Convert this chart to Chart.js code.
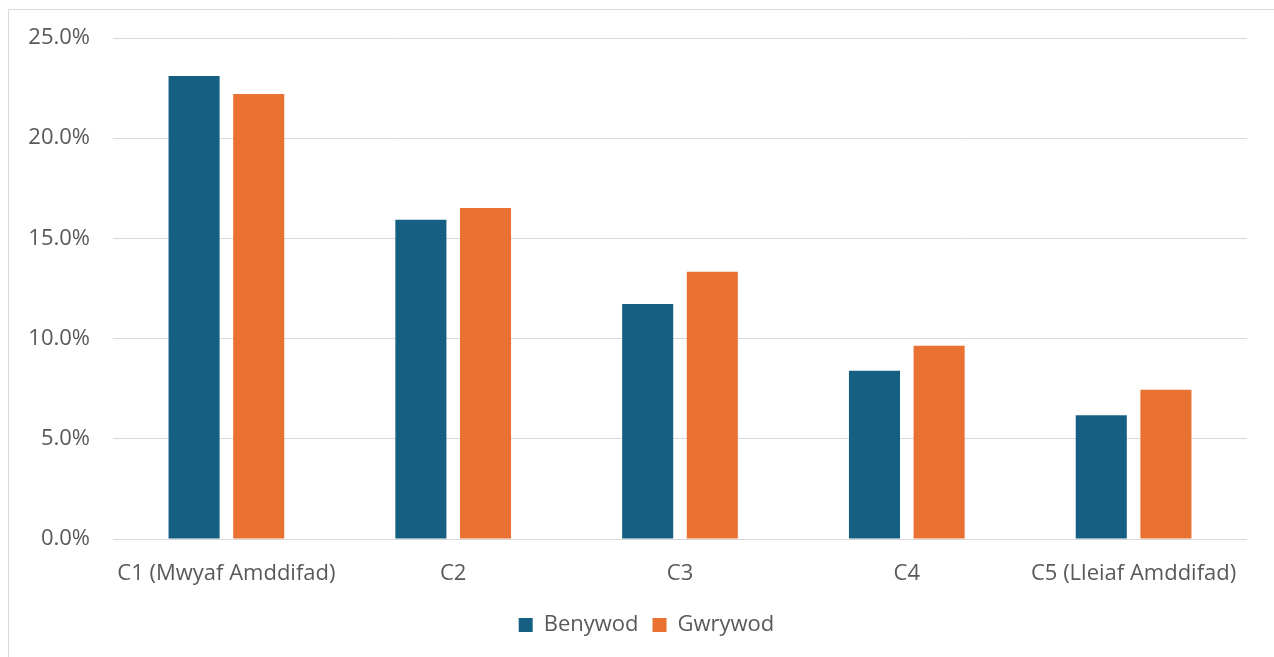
<!DOCTYPE html>
<html lang="cy">
<head>
    <meta charset="UTF-8">
    <title>Benywod a Gwrywod yn ôl cwintel amddifadedd</title>
    <script src="https://cdn.jsdelivr.net/npm/chart.js"></script>
    <style>
        html, body {
            margin: 0;
            padding: 0;
            background: white;
            width: 1274px;
            height: 657px;
            overflow: hidden;
        }
        .chart-box {
            position: absolute;
            left: 8px;
            top: 9px;
            right: 0;
            bottom: 0;
            border-top: 1px solid #d9d9d9;
            border-left: 1px solid #d9d9d9;
        }
    </style>
</head>
<body>
    <div class="chart-box">
        <canvas id="chartCwintel"></canvas>
    </div>

    <script>
        // Categorïau a gwerthoedd (%)
        const categorïau = ['C1 (Mwyaf Amddifad)', 'C2', 'C3', 'C4', 'C5 (Lleiaf Amddifad)'];
        const benywod = [23.1, 15.93, 11.73, 8.4, 6.17];
        const gwrywod = [22.2, 16.52, 13.33, 9.64, 7.45];
        const ticiauY = [0, 5, 10, 15, 20, 25];

        const lliwTestun = '#595959';
        const ffont = { family: '"Open Sans", sans-serif', size: 22 };

        const ctx = document.getElementById('chartCwintel').getContext('2d');
        new Chart(ctx, {
            type: 'bar',
            data: {
                labels: categorïau,
                datasets: [{
                    label: 'Benywod',
                    data: benywod,
                    backgroundColor: '#156082',
                    categoryPercentage: 0.57,
                    barPercentage: 0.79
                }, {
                    label: 'Gwrywod',
                    data: gwrywod,
                    backgroundColor: '#e97132',
                    categoryPercentage: 0.57,
                    barPercentage: 0.79
                }]
            },
            options: {
                responsive: true,
                maintainAspectRatio: false,
                animation: false,
                layout: {
                    padding: { top: 28, right: 0, bottom: 11, left: 10 }
                },
                plugins: {
                    tooltip: { enabled: false },
                    legend: {
                        position: 'bottom',
                        labels: {
                            color: lliwTestun,
                            font: ffont,
                            boxWidth: 14,
                            boxHeight: 14,
                            padding: 14
                        }
                    }
                },
                scales: {
                    x: {
                        grid: { display: false, drawTicks: false },
                        border: { display: false },
                        ticks: {
                            color: lliwTestun,
                            font: ffont,
                            padding: 22,
                            maxRotation: 0
                        },
                        afterFit: (scale) => { scale.height = 61; }
                    },
                    y: {
                        min: 0,
                        max: 25,
                        afterBuildTicks: (scale) => {
                            scale.ticks = ticiauY.map(v => ({ value: v }));
                        },
                        grid: {
                            color: '#d9d9d9',
                            lineWidth: 1,
                            drawTicks: false
                        },
                        border: { display: false },
                        ticks: {
                            color: lliwTestun,
                            font: ffont,
                            padding: 23,
                            callback: (v) => v.toFixed(1) + '%'
                        },
                        afterFit: (scale) => {
                            scale.width = 94;
                            scale.paddingTop = 0;
                        }
                    },
                    // bwlch gwag ar y dde
                    ymyl: {
                        position: 'right',
                        grid: { display: false, drawTicks: false },
                        border: { display: false },
                        ticks: { display: false },
                        afterFit: (scale) => {
                            scale.width = 27;
                            scale.paddingTop = 0;
                        }
                    }
                }
            }
        });
    </script>
</body>
</html>
